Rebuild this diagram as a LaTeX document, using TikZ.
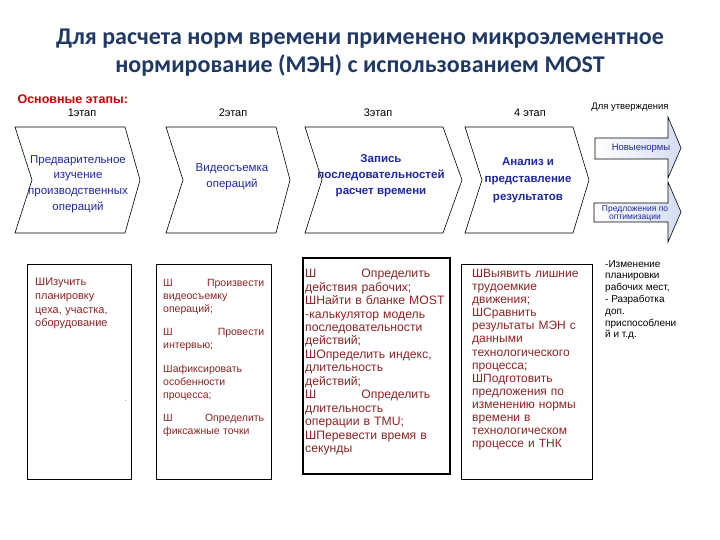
\documentclass[tikz,border=0pt]{standalone}
\usepackage{fontspec}
\setmainfont{Liberation Sans}
\newfontfamily\titlefont{Carlito}
\usetikzlibrary{positioning}
\definecolor{titleblue}{RGB}{31,56,100}
\definecolor{stagered}{RGB}{204,0,0}
\definecolor{chevblue}{RGB}{30,40,160}
\definecolor{boxred}{RGB}{140,35,35}
\definecolor{arrowblue}{RGB}{212,221,240}
\newcommand\fs[2]{\fontsize{#1}{#2}\selectfont}
\newcommand\spreadline[1]{\makebox[\hsize][s]{#1}}

\begin{document}
\begin{tikzpicture}[x=1pt,y=-1pt]%
        \useasboundingbox (0,0) rectangle (720,540);%%
        %% title
        \node[font=\titlefont\bfseries\fs{24}{28},text=titleblue,align=center] (title) at (360,53) {Для расчета норм времени применено микроэлементное\\нормирование (МЭН) с использованием MOST}; %%
        \node[font=\bfseries\fs{12.5}{14},text=stagered,anchor=west] (etapy) at (14,99) {Основные этапы:}; %%
        %% stages
        \begin{scope}[font=\fs{11}{13}]
        \node (st1) at (82,113) {1этап}; %%
        \node (st2) at (233,113) {2этап}; %%
        \node (st3) at (378,113) {3этап}; %%
        \node (st4) at (530,113) {4 этап}; %%
        \node[font=\fs{9.5}{11}] (utv) at (630,107) {Для утверждения}; %%
        \end{scope}
        %% chevrons
        \foreach \l/\r/\t in {15/125/15,166/276/14,305/443/19,465/573/16}
          \draw[line width=.6pt,fill=white] (\l,127) -- (\r,127) -- (\r+\t,180) -- (\r,233) -- (\l,233) -- (\l+17,180) -- cycle; %%
        \begin{scope}[text=chevblue,align=center]
        \tikzstyle{every node}=[font=\fs{11.5}{15.7}] %%
        \node (ch1) at (78,184) {Предварительное\\изучение\\производственных\\операций}; %%
        \node (ch2) at (232,177) {Видеосъемка\\операций}; %%
        \node[font=\bfseries\fs{11.5}{16}] (ch3) at (381,176) {Запись\\последовательностей\\расчет времени}; %%
        \node[font=\bfseries\fs{11.5}{17.5}] (ch4) at (528,180) {Анализ и\\представление\\результатов}; %%
        \end{scope}
        %% outgoing arrows
        \shade[draw,line width=.6pt,left color=white,right color=arrowblue] (595,138) -- (668,138) -- (668,117) -- (681,148) -- (668,178) -- (668,159) -- (595,159) -- cycle; %%
        \shade[draw,line width=.6pt,left color=white,right color=arrowblue] (594,203) -- (668,203) -- (668,182) -- (681,212) -- (668,242) -- (668,222) -- (594,222) -- cycle; %%
        \node[font=\fs{9.5}{11},text=chevblue] (nn) at (641,148) {Новыенормы}; %%
        \node[font=\fs{8.5}{8},text=chevblue,align=center] (po) at (635,213) {Предложения по\\оптимизации}; %%
        %% boxes
        \draw[line width=.9pt] (27,264) rectangle (131,479); %%
        \draw[line width=.9pt] (156,264) rectangle (271,479); %%
        \draw[line width=1.1pt] (303,258) rectangle (450,474); %%
        \draw[line width=.9pt] (461,264) rectangle (592,479); %%
        \begin{scope}[text=boxred,anchor=north west,inner sep=0pt]
        \tikzstyle{every node}=[font=\fs{11}{13.7},align=left] %%
        \node[text width=85pt] (t1) at (35,278) {ШИзучить\\планировку\\цеха, участка,\\оборудование}; %%
        \node[text=black,font=\fs{6}{6}] (dot) at (125,400) {.}; %%
        \node[text width=101pt,font=\fs{10.5}{12.8}] (t2) at (163,279) {Ш\hfill Произвести\\видеосъемку\\операций;\\[11pt]%
          Ш\hfill Провести\\интервью;\\[11pt]%
          Шафиксировать\\особенности\\процесса;\\[11pt]%
          Ш\hfill Определить\\фиксажные точки}; %%
        \node[text width=125pt,font=\fs{12.2}{13.45}] (t3) at (305,269) {Ш\hfill Определить\\действия рабочих;\\\spreadline{ШНайти в бланке MOST}\\%
          \spreadline{-калькулятор модель}\\последовательности\\действий;\\\spreadline{ШОпределить индекс,}\\длительность\\действий;\\%
          Ш\hfill Определить\\длительность\\операции в TMU;\\\spreadline{ШПеревести время в}\\секунды}; %%
        \node[text width=118pt,font=\fs{12}{13.1}] (t4) at (472,269) {ШВыявить лишние\\трудоемкие\\движения;\\ШСравнить\\результаты МЭН с\\данными\\технологического\\процесса;\\%
          ШПодготовить\\предложения по\\изменению нормы\\времени в\\технологическом\\процессе и ТНК}; %%
        \end{scope}
        %% right note
        \node[anchor=north west,inner sep=0pt,align=left,font=\fs{10}{11.8}] (izm) at (605,260) {-Изменение\\планировки\\рабочих мест,\\- Разработка\\доп.\\приспособлени\\й и т.д.}; %%
\end{tikzpicture}
\end{document}
